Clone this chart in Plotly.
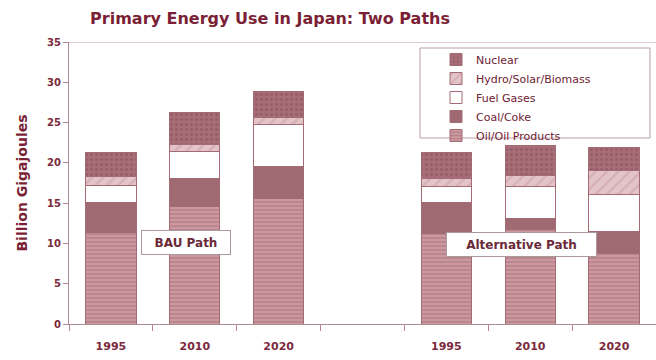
import plotly.graph_objects as go

# Category slots: BAU path, an empty spacer, then the alternative path
slots = ["BAU 1995", "BAU 2010", "BAU 2020", "gap", "ALT 1995", "ALT 2010", "ALT 2020"]
slot_labels = ["1995", "2010", "2020", "", "1995", "2010", "2020"]
bar_slots = ["BAU 1995", "BAU 2010", "BAU 2020", "ALT 1995", "ALT 2010", "ALT 2020"]

# Billion gigajoules by source
oil = [11.3, 14.55, 15.6, 11.25, 11.7, 8.75]
coal = [3.75, 3.55, 4.0, 3.8, 1.4, 2.7]
gases = [2.15, 3.3, 5.1, 2.05, 4.0, 4.65]
hydro = [1.1, 0.9, 0.9, 1.0, 1.3, 2.9]
nuclear = [3.0, 3.9, 3.2, 3.15, 3.8, 2.9]

series_names = ["Oil/Oil Products", "Coal/Coke", "Fuel Gases", "Hydro/Solar/Biomass", "Nuclear"]
series_values = [oil, coal, gases, hydro, nuclear]

FONT = "DejaVu Sans, Verdana, sans-serif"
MAROON = "#7b2a3c"
styles = [
    dict(color="#c7939a", pattern=dict(shape="-", fgcolor="#e6c8cc", bgcolor="#bd858d", size=4, solidity=0.3)),
    dict(color="#a06a73"),
    dict(color="#ffffff"),
    dict(color="#dcb8bd", pattern=dict(shape="/", fgcolor="#c99ca3", bgcolor="#e3c4c8", size=8, solidity=0.3)),
    dict(color="#a0646e", pattern=dict(shape=".", fgcolor="#86505a", bgcolor="#a86e77", size=5, solidity=0.35)),
]

fig = go.Figure()
for name, vals, st in zip(series_names, series_values, styles):
    fig.add_trace(go.Bar(
        x=bar_slots, y=vals, name=name,
        marker=dict(line=dict(color="#a36b74", width=1), **st),
    ))

fig.update_layout(
    width=656, height=360,
    barmode="stack", bargap=0.4,
    plot_bgcolor="white", paper_bgcolor="white",
    margin=dict(l=69, r=0, t=42, b=36),
    font=dict(family=FONT, color=MAROON, size=10),
    title=dict(
        text="<b>Primary Energy Use in Japan: Two Paths</b>",
        font=dict(size=16, color="#7a1f35", family=FONT),
        x=270 / 656, xref="container", xanchor="center",
        y=1 - 18 / 360, yanchor="middle",
    ),
    legend=dict(
        traceorder="reversed",
        x=(436 - 69) / 587, y=(324 - 45) / 282,
        xanchor="left", yanchor="top",
        bgcolor="rgba(0,0,0,0)",
        font=dict(size=11, color="#6e2233", family=FONT),
        itemwidth=30, tracegroupgap=0,
    ),
    showlegend=True,
)

fig.update_xaxes(
    type="category", categoryorder="array", categoryarray=slots,
    tickvals=slots, ticktext=[f"<b>{t}</b>" for t in slot_labels],
    tickson="boundaries", ticks="outside", ticklen=6, tickcolor="#b08a90",
    ticklabelstandoff=12,
    showline=True, linecolor="#b08a90", linewidth=1,
    tickfont=dict(size=11, color=MAROON, family=FONT), range=[-0.5, 6.5],
)
fig.update_yaxes(
    range=[0, 35], dtick=5, showgrid=False,
    ticks="outside", ticklen=5, tickcolor="#b08a90",
    showline=True, linecolor="#b08a90", linewidth=1,
    tickfont=dict(size=10, color=MAROON, family=FONT),
    tickprefix="<b>", ticksuffix="</b>",
    title=dict(text="<b>Billion Gigajoules</b>", font=dict(size=14, color="#7a1f35", family=FONT), standoff=16),
    zeroline=False,
)

# Top frame line and legend box
fig.add_shape(type="line", xref="paper", yref="y", x0=0, x1=1, y0=35, y1=35,
              line=dict(color="#c0a0a5", width=1))
fig.add_shape(type="rect", xref="paper", yref="paper",
              x0=(420 - 69) / 587, x1=(650 - 69) / 587,
              y0=(324 - 138) / 282, y1=(324 - 48) / 282,
              line=dict(color="#b8a0a4", width=1), fillcolor="rgba(0,0,0,0)")

# Path labels
for text, xp, yv, w in [("BAU Path", (186 - 69) / 587, 10.1, 78),
                        ("Alternative Path", (521 - 69) / 587, 9.9, 139)]:
    fig.add_annotation(
        text=f"<b>{text}</b>", xref="paper", yref="y", x=xp, y=yv,
        xanchor="center", yanchor="middle",
        showarrow=False, bgcolor="white", bordercolor="#a89a9c", borderwidth=1,
        borderpad=5, font=dict(size=12, color="#6b2a38", family=FONT),
        width=w, height=13,
    )

fig.write_html("out.html")
